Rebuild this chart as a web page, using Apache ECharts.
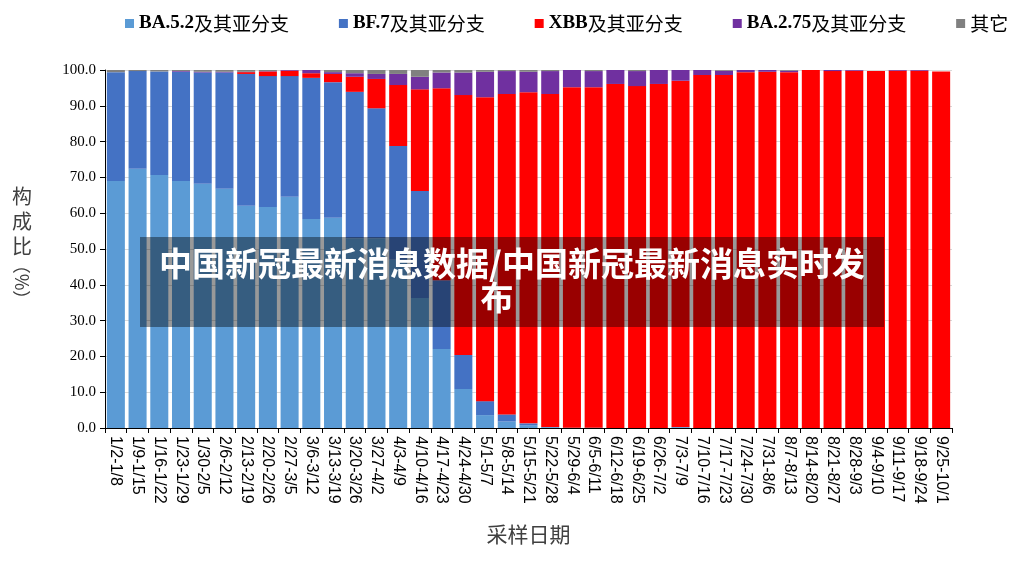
<!DOCTYPE html>
<html>
<head>
<meta charset="utf-8">
<title>构成比</title>
<script src="https://cdn.jsdelivr.net/npm/echarts@6/dist/echarts.min.js"></script>
<style>
  html, body { margin: 0; padding: 0; background: #fff; }
  #chart { width: 1026px; height: 566px; }
</style>
</head>
<body>
<div id="chart"></div>
<script>
// sampling weeks
const weeks = [
  "1/2-1/8", "1/9-1/15", "1/16-1/22", "1/23-1/29", "1/30-2/5", "2/6-2/12",
  "2/13-2/19", "2/20-2/26", "2/27-3/5", "3/6-3/12", "3/13-3/19", "3/20-3/26",
  "3/27-4/2", "4/3-4/9", "4/10-4/16", "4/17-4/23", "4/24-4/30", "5/1-5/7",
  "5/8-5/14", "5/15-5/21", "5/22-5/28", "5/29-6/4", "6/5-6/11", "6/12-6/18",
  "6/19-6/25", "6/26-7/2", "7/3-7/9", "7/10-7/16", "7/17-7/23", "7/24-7/30",
  "7/31-8/6", "8/7-8/13", "8/14-8/20", "8/21-8/27", "8/28-9/3", "9/4-9/10",
  "9/11-9/17", "9/18-9/24", "9/25-10/1",
];

// share (%) per lineage
const ba52 = [
  69.0, 72.4, 70.7, 69.0, 68.2, 66.8, 62.1, 61.7, 64.6, 58.4, 58.7, 53.0,
  53.0, 47.0, 36.3, 22.1, 10.9, 3.6, 1.8, 0.8, 0.2, 0.1, 0.1, 0,
  0, 0, 0.2, 0, 0, 0, 0, 0, 0, 0, 0, 0, 0, 0, 0,
];
const bf7 = [
  30.4, 27.3, 28.9, 30.5, 31.1, 32.5, 36.8, 36.6, 33.7, 39.4, 37.9, 40.9,
  36.3, 31.8, 29.9, 19.2, 9.5, 3.9, 2.0, 0.5, 0.1, 0, 0, 0,
  0, 0, 0.1, 0, 0, 0, 0, 0, 0, 0, 0, 0, 0, 0, 0,
];
const xbb = [
  0, 0, 0, 0, 0, 0, 0.5, 1.3, 1.5, 1.3, 2.3, 4.2,
  8.2, 17.0, 28.4, 53.6, 72.6, 84.9, 89.5, 92.5, 93.0, 95.1, 95.1, 96.1,
  95.5, 96.1, 96.7, 98.6, 98.6, 99.4, 99.5, 99.4, 100, 99.7, 99.8, 99.7,
  99.8, 99.8, 99.6,
];
const ba275 = [
  0, 0, 0, 0.2, 0.2, 0.2, 0.1, 0.1, 0.2, 0.9, 0.5, 1.0,
  1.4, 3.1, 3.5, 4.4, 6.3, 7.1, 6.4, 5.7, 6.4, 4.8, 4.5, 3.9,
  4.2, 3.9, 3.0, 1.4, 1.2, 0.6, 0.5, 0.4, 0, 0.3, 0.2, 0,
  0.2, 0.2, 0,
];
const others = [
  0.6, 0.3, 0.4, 0.3, 0.5, 0.5, 0.5, 0.3, 0, 0, 0.6, 0.9,
  1.1, 1.1, 1.9, 0.7, 0.7, 0.5, 0.3, 0.5, 0.3, 0, 0.3, 0,
  0.3, 0, 0, 0, 0.2, 0, 0, 0.2, 0, 0, 0, 0,
  0, 0, 0,
];

const seriesNames = ["BA.5.2及其亚分支", "BF.7及其亚分支", "XBB及其亚分支", "BA.2.75及其亚分支", "其它"];
const seriesColors = ["#5B9BD5", "#4472C4", "#FF0000", "#7030A0", "#808080"];
const seriesData = [ba52, bf7, xbb, ba275, others];

const headline = "中国新冠最新消息数据/中国新冠最新消息实时发";
const headlineTail = "布";

const serif = "'Liberation Serif', 'Noto Sans CJK SC', serif";
const cjk = "'Noto Sans CJK SC', sans-serif";

const chart = echarts.init(document.getElementById("chart"));

chart.setOption({
  animation: false,
  backgroundColor: "#fff",
  legend: {
    top: 9,
    left: 120,
    itemWidth: 9,
    itemHeight: 9,
    itemGap: 50,
    icon: "rect",
    formatter: (name) => {
      const i = name.indexOf("及");
      if (i < 0) return "{b|" + name + "}";
      return "{a|" + name.slice(0, i) + "}{b|" + name.slice(i) + "}";
    },
    textStyle: {
      color: "#000",
      rich: {
        a: { fontFamily: serif, fontWeight: "bold", fontSize: 19, color: "#000" },
        b: { fontFamily: cjk, fontSize: 19, color: "#000" },
      },
    },
  },
  grid: {
    left: 105,
    right: 74,
    top: 70,
    bottom: 138,
  },
  xAxis: {
    type: "category",
    data: weeks,
    name: "采样日期",
    nameLocation: "middle",
    nameGap: 96,
    nameTextStyle: { fontFamily: cjk, fontSize: 21, color: "#404040" },
    axisLine: { lineStyle: { color: "#000", width: 1 } },
    axisTick: { show: true, length: 5, lineStyle: { color: "#000" } },
    axisLabel: {
      interval: 0,
      rotate: -90,
      margin: 8,
      fontFamily: "'Liberation Sans', sans-serif",
      fontSize: 16,
      color: "#000",
    },
  },
  yAxis: {
    type: "value",
    min: 0,
    max: 100,
    interval: 10,
    axisLine: { show: true, lineStyle: { color: "#000", width: 1 } },
    axisTick: { show: true, length: 5, lineStyle: { color: "#000" } },
    axisLabel: {
      formatter: (v) => v.toFixed(1),
      fontFamily: serif,
      fontSize: 15,
      color: "#000",
      margin: 9,
    },
    splitLine: { lineStyle: { color: "#D9D9D9" } },
  },
  series: seriesNames.map((name, i) => ({
    name,
    type: "bar",
    stack: "share",
    data: seriesData[i],
    barCategoryGap: "17%",
    itemStyle: { color: seriesColors[i] },
  })),
  graphic: [
    {
      type: "text",
      left: 12,
      top: 184,
      style: {
        text: "构\n成\n比",
        font: "20px " + cjk,
        fill: "#404040",
        lineHeight: 25,
      },
    },
    {
      type: "text",
      x: 22,
      y: 282,
      rotation: -Math.PI / 2,
      style: {
        text: "（%）",
        font: "18px " + cjk,
        fill: "#404040",
        align: "center",
        verticalAlign: "middle",
      },
    },
    {
      type: "rect",
      z: 100,
      shape: { x: 140, y: 237, width: 744, height: 90 },
      style: { fill: "rgba(0,0,0,0.4)" },
    },
    {
      type: "text",
      z: 101,
      x: 512,
      y: 263,
      style: {
        text: headline,
        font: "bold 33px " + cjk,
        fill: "#fff",
        align: "center",
        verticalAlign: "middle",
      },
    },
    {
      type: "text",
      z: 101,
      x: 497,
      y: 297,
      style: {
        text: headlineTail,
        font: "bold 33px " + cjk,
        fill: "#fff",
        align: "center",
        verticalAlign: "middle",
      },
    },
  ],
});
</script>
</body>
</html>
